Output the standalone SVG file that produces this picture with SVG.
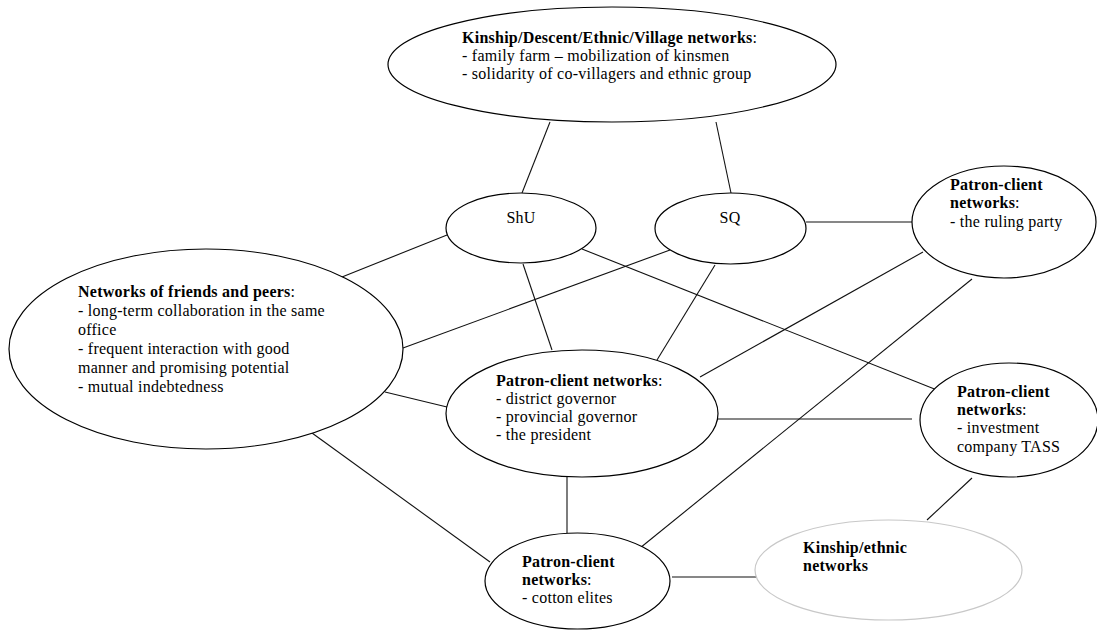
<svg xmlns="http://www.w3.org/2000/svg" width="1097" height="630" viewBox="0 0 1097 630">
<style>
.node{fill:#fff;stroke:#000;stroke-width:1.2}
.grey{fill:#fff;stroke:#c8c8c8;stroke-width:1.2}
.conn line{stroke:#111;stroke-width:1.1}
text,tspan{font-family:'Liberation Serif','DejaVu Serif',serif;font-size:16px;font-weight:normal;fill:#000;letter-spacing:0.25px}
.b{font-weight:bold}
</style>
<rect width="1097" height="630" fill="#fff"/>
<g id="connectors" class="conn">
<line x1="550" y1="122" x2="522" y2="193"/>
<line x1="716" y1="122" x2="731" y2="193"/>
<line x1="342" y1="277" x2="447" y2="235"/>
<line x1="403" y1="348" x2="670" y2="250"/>
<line x1="385" y1="392" x2="447" y2="407"/>
<line x1="312" y1="433" x2="490" y2="562"/>
<line x1="523" y1="264" x2="552" y2="350"/>
<line x1="715" y1="265" x2="657" y2="360"/>
<line x1="806" y1="222" x2="912" y2="222"/>
<line x1="700" y1="377" x2="923" y2="252"/>
<line x1="582" y1="249" x2="942" y2="392"/>
<line x1="718" y1="419" x2="912" y2="419"/>
<line x1="567" y1="477" x2="567" y2="533"/>
<line x1="972" y1="279" x2="640" y2="548"/>
<line x1="972" y1="478" x2="927" y2="520"/>
<line x1="672" y1="577" x2="760" y2="577"/>
</g>
<g id="kinship-top">
<ellipse class="node" cx="612" cy="64.5" rx="224" ry="57.5"/>
<text x="462" y="43"><tspan class="b">Kinship/Descent/Ethnic/Village networks</tspan>:</text>
<text x="462" y="61">- family farm – mobilization of kinsmen</text>
<text x="462" y="79">- solidarity of co-villagers and ethnic group</text>
</g>
<g id="shu">
<ellipse class="node" cx="521" cy="228" rx="75" ry="35"/>
<text x="521" y="223" text-anchor="middle">ShU</text>
</g>
<g id="sq">
<ellipse class="node" cx="730.5" cy="228.5" rx="75.5" ry="35.5"/>
<text x="730" y="223" text-anchor="middle">SQ</text>
</g>
<g id="ruling-party">
<ellipse class="node" cx="1004" cy="222" rx="92" ry="56"/>
<text x="950" y="190"><tspan class="b">Patron-client</tspan></text>
<text x="950" y="208"><tspan class="b">networks</tspan>:</text>
<text x="950" y="227">- the ruling party</text>
</g>
<g id="friends">
<ellipse class="node" cx="206" cy="349" rx="197" ry="100"/>
<text x="78" y="297"><tspan class="b">Networks of friends and peers</tspan>:</text>
<text x="78" y="316">- long-term collaboration in the same</text>
<text x="78" y="335">office</text>
<text x="78" y="354">- frequent interaction with good</text>
<text x="78" y="373">manner and promising potential</text>
<text x="78" y="392">- mutual indebtedness</text>
</g>
<g id="patron-governor">
<ellipse class="node" cx="582" cy="413.5" rx="136" ry="63.5"/>
<text x="496" y="386"><tspan class="b">Patron-client networks</tspan>:</text>
<text x="496" y="404">- district governor</text>
<text x="496" y="422">- provincial governor</text>
<text x="496" y="440">- the president</text>
</g>
<g id="tass">
<ellipse class="node" cx="1009" cy="420" rx="89" ry="57"/>
<text x="957" y="397"><tspan class="b">Patron-client</tspan></text>
<text x="957" y="415"><tspan class="b">networks</tspan>:</text>
<text x="957" y="433">- investment</text>
<text x="957" y="452">company TASS</text>
</g>
<g id="cotton-elites">
<ellipse class="node" cx="577.5" cy="581" rx="92.5" ry="48"/>
<text x="522" y="567"><tspan class="b">Patron-client</tspan></text>
<text x="522" y="585"><tspan class="b">networks</tspan>:</text>
<text x="522" y="603">- cotton elites</text>
</g>
<g id="kinship-ethnic">
<ellipse class="grey" cx="888.5" cy="570" rx="133.5" ry="50"/>
<text x="803" y="553"><tspan class="b">Kinship/ethnic</tspan></text>
<text x="803" y="571"><tspan class="b">networks</tspan></text>
</g>
</svg>
